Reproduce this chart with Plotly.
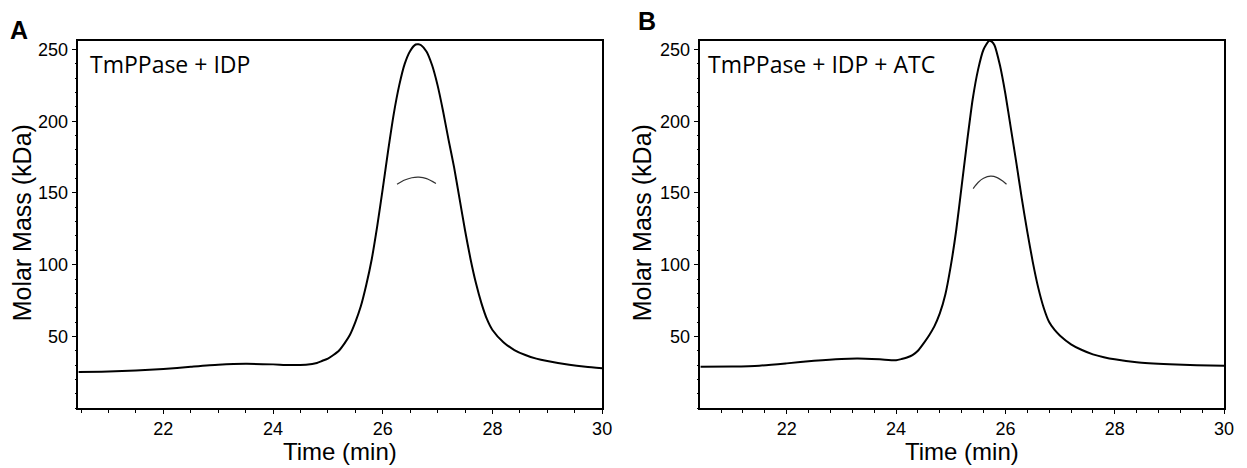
import plotly.graph_objects as go

# ---------------- data ----------------
a_time = [20.45, 21.0, 21.5, 22.0, 22.5, 23.0, 23.5, 24.0, 24.3, 24.6, 24.8, 24.9,
          25.0, 25.1, 25.2, 25.3, 25.4, 25.5, 25.6, 25.7, 25.8, 25.9, 26.0, 26.1,
          26.2, 26.3, 26.4, 26.5, 26.6, 26.65, 26.7, 26.8, 26.9, 27.0, 27.1, 27.2,
          27.3, 27.4, 27.5, 27.6, 27.7, 27.8, 27.9, 28.0, 28.2, 28.4, 28.6, 28.8,
          29.0, 29.4, 29.7, 30.0]
a_mass = [25.2, 25.5, 26.3, 27.3, 28.8, 30.2, 30.9, 30.5, 30.0, 30.3, 31.5, 33.0,
          34.5, 37.0, 40.0, 45.0, 51.0, 60.0, 71.0, 86.0, 104.0, 127.0, 153.0, 180.0,
          205.0, 225.0, 240.0, 249.0, 253.5, 253.7, 253.0, 248.5, 239.0, 225.0, 207.0, 187.0,
          168.0, 146.0, 124.0, 104.0, 87.0, 73.0, 62.0, 54.5, 46.0, 40.5, 37.0, 34.5,
          32.8, 30.2, 28.8, 27.8]
a_mm_time = [26.26, 26.4, 26.53, 26.66, 26.8, 26.97]
a_mm_val = [156.0, 159.0, 160.6, 161.0, 160.0, 156.6]

b_time = [20.42, 21.0, 21.5, 22.0, 22.5, 23.0, 23.3, 23.7, 24.0, 24.1, 24.2, 24.3,
          24.4, 24.5, 24.6, 24.7, 24.8, 24.9, 25.0, 25.1, 25.2, 25.3, 25.4, 25.5,
          25.6, 25.7, 25.75, 25.8, 25.9, 26.0, 26.1, 26.2, 26.3, 26.4, 26.5, 26.6,
          26.7, 26.8, 26.9, 27.0, 27.2, 27.4, 27.6, 27.8, 28.0, 28.4, 29.0, 29.5, 30.0]
b_mass = [28.8, 29.0, 29.6, 31.2, 33.0, 34.3, 34.6, 34.0, 33.4, 34.2, 35.3, 37.0,
          40.0, 45.0, 50.5, 57.0, 66.0, 79.0, 99.0, 124.0, 155.0, 186.0, 215.0, 236.0,
          250.0, 256.0, 255.5, 253.0, 239.0, 219.0, 195.0, 171.0, 146.0, 123.0, 102.0, 84.0,
          70.0, 60.0, 54.5, 50.5, 44.5, 40.5, 37.5, 35.5, 34.0, 32.0, 30.6, 29.9, 29.5]
b_mm_time = [25.41, 25.5, 25.6, 25.73, 25.85, 25.95, 26.02]
b_mm_val = [153.1, 157.3, 160.2, 161.7, 160.7, 158.3, 156.1]

x_ticks = [22, 24, 26, 28, 30]
y_ticks = [50, 100, 150, 200, 250]
panel_labels = ["A", "B"]
panel_titles = ["TmPPase + IDP", "TmPPase + IDP + ATC"]

# ---------------- figure ----------------
W, H = 1247, 468
fig = go.Figure()

line_main = dict(color="black", width=2, shape="spline", smoothing=0.6)
line_mm = dict(color="#333333", width=1.2, shape="spline", smoothing=0.8)

fig.add_trace(go.Scatter(x=a_time, y=a_mass, mode="lines", line=line_main,
                         xaxis="x", yaxis="y", showlegend=False))
fig.add_trace(go.Scatter(x=a_mm_time, y=a_mm_val, mode="lines", line=line_mm,
                         xaxis="x", yaxis="y", showlegend=False))
fig.add_trace(go.Scatter(x=b_time, y=b_mass, mode="lines", line=line_main,
                         xaxis="x2", yaxis="y2", showlegend=False))
fig.add_trace(go.Scatter(x=b_mm_time, y=b_mm_val, mode="lines", line=line_mm,
                         xaxis="x2", yaxis="y2", showlegend=False))

tickfont = dict(family="Liberation Sans, Arial, sans-serif", size=18, color="black")

def xax(domain, rng, minor_dtick):
    return dict(domain=domain, range=rng, tickvals=x_ticks, ticks="outside", ticklen=4,
                tickwidth=1, tickcolor="black", showline=True, linecolor="black",
                linewidth=1.5, mirror=True, showgrid=False, zeroline=False,
                tickfont=tickfont,
                minor=dict(tick0=20, dtick=minor_dtick, ticks="outside", ticklen=3,
                           tickcolor="black", tickwidth=1, showgrid=False))

def yax(domain, anchor):
    return dict(domain=domain, range=[0, 256], tickvals=y_ticks, ticks="outside", ticklen=5,
                tickwidth=1, tickcolor="black", showline=True, linecolor="black",
                linewidth=1.5, mirror=True, showgrid=False, zeroline=False,
                tickfont=tickfont, anchor=anchor,
                minor=dict(tick0=0, dtick=10, ticks="outside", ticklen=2,
                           tickcolor="black", tickwidth=1, showgrid=False))

ydom = [1 - 408 / H, 1 - 40 / H]
fig.update_layout(
    width=W, height=H,
    margin=dict(l=0, r=0, t=0, b=0),
    paper_bgcolor="white", plot_bgcolor="white",
    xaxis=dict(xax([79 / W, 607 / W], [20.45, 30], 0.5), anchor="y"),
    yaxis=yax(ydom, "x"),
    xaxis2=dict(xax([706 / W, 1234 / W], [20.42, 30], 0.4), anchor="y2"),
    yaxis2=yax(ydom, "x2"),
)

title_font = dict(family="Liberation Sans, Arial, sans-serif", size=24, color="black")
ann = []
for cx in [(79 + 607) / 2, (706 + 1234) / 2]:
    ann.append(dict(text="Time (min)", x=cx / W, y=1 - 451 / H, xref="paper", yref="paper",
                    showarrow=False, xanchor="center", yanchor="middle", font=title_font))
for cx in [22, 647]:
    ann.append(dict(text="Molar Mass (kDa)", x=cx / W, y=1 - 222 / H, xref="paper",
                    yref="paper", showarrow=False, xanchor="center", yanchor="middle",
                    textangle=-90, font=dict(title_font, size=25)))
for lab, (px, py) in zip(panel_labels, [(19, 29), (652, 20)]):
    ann.append(dict(text="<b>" + lab + "</b>", x=px / W, y=1 - py / H, xref="paper",
                    yref="paper", showarrow=False, xanchor="center", yanchor="middle",
                    font=dict(family="Liberation Sans, Arial, sans-serif", size=25,
                              color="black")))
for t, px in zip(panel_titles, [89, 712]):
    ann.append(dict(text=t, x=px / W, y=1 - 63 / H, xref="paper", yref="paper",
                    showarrow=False, xanchor="left", yanchor="middle",
                    font=dict(family="Open Sans, sans-serif", size=23, color="black")))
fig.update_layout(annotations=ann)

fig.write_html("out.html", config={"displayModeBar": False},
               post_script="document.body.style.margin='0';document.body.style.padding='0';")
